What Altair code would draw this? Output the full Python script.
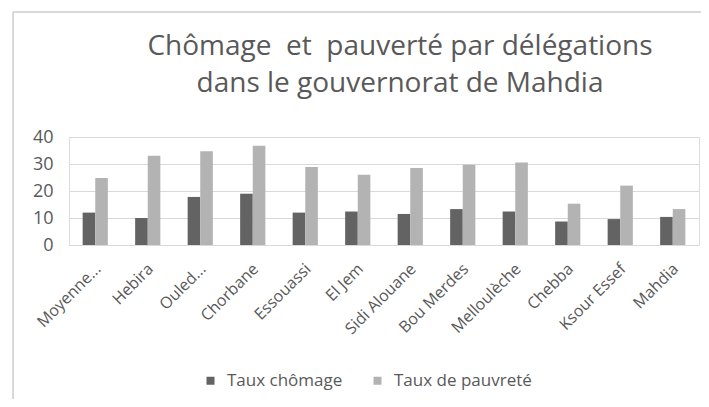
import altair as alt
import pandas as pd

categories = ["Moyenne...", "Hebira", "Ouled...", "Chorbane", "Essouassi", "El Jem",
              "Sidi Alouane", "Bou Merdes", "Melloulèche", "Chebba", "Ksour Essef", "Mahdia"]
chomage = [12.0, 10.0, 17.8, 19.0, 12.0, 12.4, 11.5, 13.3, 12.4, 8.7, 9.6, 10.4]
pauvrete = [24.8, 33.1, 34.7, 36.8, 28.9, 26.0, 28.5, 29.7, 30.6, 15.3, 22.0, 13.3]
series = ["Taux chômage", "Taux de pauvreté"]
colors = ["#636363", "#b3b3b3"]
title_lines = ["Chômage \u00a0et \u00a0pauverté par délégations",
               "dans le gouvernorat de Mahdia"]

rows = []
for c, a, b in zip(categories, chomage, pauvrete):
    rows.append({"cat": c, "serie": series[0], "val": a})
    rows.append({"cat": c, "serie": series[1], "val": b})
df = pd.DataFrame(rows)

FONT = "Open Sans"
TXT = "#595959"

bars = alt.Chart(df).mark_bar().encode(
    x=alt.X("cat:N", sort=categories, title=None,
            scale=alt.Scale(paddingInner=0.52, paddingOuter=0.26),
            axis=alt.Axis(labelAngle=-45, labelAlign="right", labelBaseline="middle",
                          labelFontSize=16, labelColor=TXT, labelFont=FONT,
                          labelPadding=21, labelOffset=3, ticks=False, domain=False,
                          labelLimit=200)),
    xOffset=alt.XOffset("serie:N", sort=series),
    y=alt.Y("val:Q", title=None,
            scale=alt.Scale(domain=[0, 40]),
            axis=alt.Axis(values=[0, 10, 20, 30, 40], grid=True, gridColor="#d9d9d9",
                          gridWidth=1.2, domain=False, ticks=False,
                          labelFontSize=18, labelColor=TXT, labelFont=FONT,
                          labelPadding=16)),
    color=alt.Color("serie:N", sort=series,
                    scale=alt.Scale(domain=series, range=colors),
                    legend=alt.Legend(title=None, orient="none", direction="horizontal",
                                      legendX=133, legendY=235, symbolType="square",
                                      symbolSize=64, symbolStrokeWidth=0,
                                      labelFontSize=17, labelColor=TXT, labelFont=FONT,
                                      labelOffset=8, columnPadding=26)),
)

border = alt.Chart(pd.DataFrame({"k": [0]})).mark_rule(color="#d9d9d9", strokeWidth=2).encode(
    x=alt.value(-56), y=alt.value(-125), y2=alt.value(270)
)
border_top = alt.Chart(pd.DataFrame({"k": [0]})).mark_rule(color="#d9d9d9", strokeWidth=2).encode(
    x=alt.value(-56), x2=alt.value(640), y=alt.value(-125)
)

chart = alt.layer(border, border_top, bars).properties(
    width=630, height=108,
    title=alt.TitleParams(title_lines,
                          anchor="middle", frame="group", font=FONT, fontSize=28,
                          fontWeight="normal", color=TXT, lineHeight=37, offset=0,
                          dx=16, dy=87),
    autosize=alt.AutoSizeParams(type="none"),
    padding={"left": 61, "top": 129, "right": 2, "bottom": 154},
).configure_view(stroke=None).configure(background="white")

chart.save("out.html", embed_options={"renderer": "svg", "actions": False})
